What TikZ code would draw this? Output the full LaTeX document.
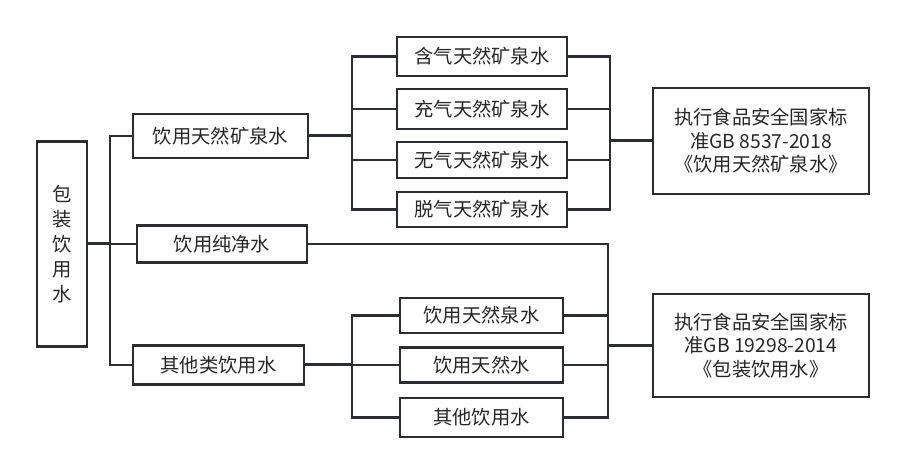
\documentclass[tikz,border=0pt]{standalone}
\usepackage{fontspec}
\newfontfamily\cjk{Noto Sans CJK SC}
\usetikzlibrary{positioning,calc}
\definecolor{lc}{HTML}{2A2D31}
\definecolor{tc}{HTML}{262626}

\begin{document}
\begin{tikzpicture}[x=1pt, y=-1pt, semithick]
		\tikzstyle{box}=[draw=lc, line width=2.9pt, text=tc, inner sep=0pt,
		font=\cjk\fontsize{19.3}{23.5}\selectfont, align=center]
		\tikzstyle{link}=[draw=lc, line width=2.4pt]
		\useasboundingbox (0,0) rectangle (906,473);
		% level 0 and 1
		\node[box, minimum width=50pt, minimum height=205pt,
		font=\cjk\fontsize{19.3}{25}\selectfont] (root) at (62,244)
		{包\\装\\饮\\用\\水};
		\node[box, minimum width=175pt, minimum height=44pt] (b1) at
		(220.5,136) {饮用天然矿泉水}; \node[box, minimum width=170pt,
		minimum height=37pt] (b2) at (222,244) {饮用纯净水}; \node[box,
		minimum width=171pt, minimum height=39pt] (b3) at (218.5,365)
		{其他类饮用水};
		% level 2
		\node[box, minimum width=170pt, minimum height=39pt] (c1) at
		(482,56.5) {含气天然矿泉水}; \node[box, minimum width=170pt,
		minimum height=40pt] (c2) at (482,109) {充气天然矿泉水};
		\node[box, minimum width=170pt, minimum height=36pt] (c3) at
		(482,160) {无气天然矿泉水}; \node[box, minimum width=170pt,
		minimum height=35pt] (c4) at (482,209.5) {脱气天然矿泉水};
		\node[box, minimum width=163pt, minimum height=35pt] (d1) at
		(481.5,315.5) {饮用天然泉水}; \node[box, minimum width=163pt,
		minimum height=35pt] (d2) at (481.5,365) {饮用天然水};
		\node[box, minimum width=163pt, minimum height=39pt] (d3) at
		(481.5,417.5) {其他饮用水};
		% standards
		\node[box, minimum width=216pt, minimum height=106pt] (s1) at
		(761,141) {执行食品安全国家标\\准GB 8537-2018\\《饮用天然矿泉水》};
		\node[box, minimum width=216pt, minimum height=103pt] (s2) at
		(761,345.5) {执行食品安全国家标\\准GB 19298-2014\\《包装饮用水》};

		\coordinate (j0) at (110,244); \coordinate (j1) at (352,136);
		\coordinate (j2) at (352,365); \coordinate (k1) at (610,141);
		\coordinate (k2) at (608,345.5);

		\draw[link, line width=3pt] (root.east) -- (j0);
		\draw[link] (j0) |- (b1.west); \draw[link] (j0) -- (b2.west);
		\draw[link] (j0) |- (b3.west);
		\draw[link, line width=3pt] (b1.east) -- (j1);
		\draw[link] (j1) |- (c1.west); \draw[link] (j1) |- (c2.west);
		\draw[link] (j1) |- (c3.west); \draw[link] (j1) |- (c4.west);
		\draw[link, line width=3pt] (b3.east) -- (j2);
		\draw[link] (j2) |- (d1.west); \draw[link] (j2) -- (d2.west);
		\draw[link] (j2) |- (d3.west);
		\draw[link] (c1.east) -| (k1); \draw[link] (c2.east) -| (k1);
		\draw[link] (c3.east) -| (k1); \draw[link] (c4.east) -| (k1);
		\draw[link, line width=3pt] (k1) -- (s1.west);
		\draw[link] (b2.east) -| (k2); \draw[link] (d1.east) -| (k2);
		\draw[link] (d2.east) -| (k2); \draw[link] (d3.east) -| (k2);
		\draw[link, line width=3pt] (k2) -- (s2.west);
\end{tikzpicture}
\end{document}
